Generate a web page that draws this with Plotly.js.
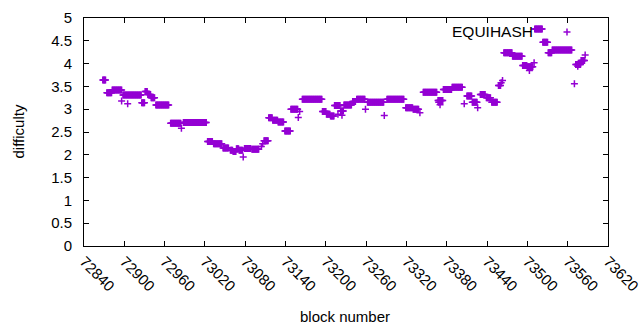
<!DOCTYPE html>
<html>
<head>
<meta charset="utf-8">
<script src="https://cdn.plot.ly/plotly-3.0.1.min.js"></script>
<style>
  html, body { margin: 0; padding: 0; background: #ffffff; }
  #chart { width: 640px; height: 330px; }
</style>
</head>
<body>
<div id="chart"></div>
<script>
// ---- data ----
// runs of consecutive blocks sharing the same difficulty
const runStart = [72868, 72874, 72882, 72898, 72926, 72931, 72935, 72940, 72947, 72969,
                  72988, 73024, 73033, 73047, 73058, 73062, 73067, 73071, 73079, 73090,
                  73108, 73115, 73121, 73129, 73139, 73148, 73165, 73195, 73201, 73207,
                  73213, 73222, 73227, 73240, 73246, 73262, 73291, 73319, 73330, 73345,
                  73367, 73375, 73388, 73410, 73418, 73430, 73439, 73447, 73457, 73465,
                  73478, 73493, 73500, 73511, 73523, 73531, 73537, 73572, 73580];
const runEnd =   [72872, 72881, 72896, 72925, 72930, 72934, 72939, 72945, 72966, 72984,
                  73022, 73031, 73045, 73055, 73061, 73066, 73070, 73076, 73088, 73100,
                  73114, 73120, 73128, 73137, 73147, 73158, 73194, 73200, 73206, 73212,
                  73221, 73226, 73238, 73244, 73258, 73286, 73316, 73329, 73338, 73365,
                  73374, 73387, 73403, 73417, 73425, 73437, 73445, 73455, 73460, 73477,
                  73492, 73499, 73508, 73522, 73530, 73536, 73566, 73579, 73585];
const runDifficulty = [3.64, 3.36, 3.42, 3.31, 3.14, 3.39, 3.32, 3.25, 3.09, 2.69,
                       2.71, 2.29, 2.24, 2.15, 2.10, 2.07, 2.13, 2.10, 2.14, 2.12,
                       2.31, 2.81, 2.76, 2.72, 2.52, 3.00, 3.22, 2.95, 2.89, 2.85,
                       3.08, 2.96, 3.09, 3.17, 3.22, 3.15, 3.22, 3.03, 3.00, 3.37,
                       3.19, 3.43, 3.48, 3.29, 3.15, 3.32, 3.25, 3.15, 3.52, 4.24,
                       4.16, 3.96, 3.93, 4.76, 4.47, 4.24, 4.30, 3.98, 4.07];
// isolated blocks
const singleBlock = [72896, 72905, 72985, 73077, 73104, 73106, 73159, 73161, 73218, 73224,
                     73259, 73287, 73340, 73368, 73370, 73406, 73426, 73461, 73463, 73503,
                     73510, 73570, 73575, 73586];
const singleDifficulty = [3.18, 3.12, 2.58, 1.95, 2.18, 2.24, 2.82, 2.95, 2.89, 2.87,
                          3.00, 2.86, 2.92, 3.15, 3.10, 3.12, 3.03, 3.58, 3.63, 3.85,
                          4.02, 3.56, 3.94, 4.19];

const xTickVals = [72840, 72900, 72960, 73020, 73080, 73140, 73200, 73260, 73320, 73380, 73440, 73500, 73560, 73620];
const xTickText = ['72840', '72900', '72960', '73020', '73080', '73140', '73200', '73260', '73320', '73380', '73440', '73500', '73560', '73620'];
const yTickVals = [0, 0.5, 1, 1.5, 2, 2.5, 3, 3.5, 4, 4.5, 5];
const yTickText = ['0', '0.5', '1', '1.5', '2', '2.5', '3', '3.5', '4', '4.5', '5'];

const seriesName = 'EQUIHASH';
const xTitle = 'block number';
const yTitle = 'difficulty';

// ---- build the point list ----
const xs = [], ys = [];
for (let i = 0; i < runStart.length; i++) {
  for (let b = runStart[i]; b <= runEnd[i]; b++) { xs.push(b); ys.push(runDifficulty[i]); }
}
for (let i = 0; i < singleBlock.length; i++) { xs.push(singleBlock[i]); ys.push(singleDifficulty[i]); }

const purple = '#9400d3';
const font = 'Liberation Sans, Arial, sans-serif';

const trace = {
  type: 'scatter',
  mode: 'markers',
  name: seriesName,
  x: xs,
  y: ys,
  marker: { symbol: 'cross-thin-open', size: 5, color: purple, line: { color: purple, width: 1.5 } },
  showlegend: false,
  hoverinfo: 'skip',
  cliponaxis: false
};

const L = 84, R = 608, T = 18, B = 246;
function px(xp) { return (xp - L) / (R - L); }
function py(yp) { return (B - yp) / (B - T); }

const layout = {
  width: 640, height: 330,
  margin: { l: L, r: 640 - R, t: T, b: 330 - B, pad: 0 },
  paper_bgcolor: '#ffffff', plot_bgcolor: '#ffffff',
  font: { family: font, size: 15, color: '#000000' },
  showlegend: false,
  xaxis: {
    range: [72840, 73620.001], tickvals: xTickVals, ticktext: xTickText, tickangle: 45,
    ticks: 'inside', ticklen: 5, tickcolor: '#000', tickwidth: 1,
    showline: true, linecolor: '#000', linewidth: 1, mirror: 'ticks',
    showgrid: false, zeroline: false, automargin: false,
    ticklabeloverflow: 'allow',
    tickfont: { family: font, size: 15, color: '#000' }
  },
  yaxis: {
    range: [0, 5], tickvals: yTickVals, ticktext: yTickText,
    ticks: 'inside', ticklen: 5, tickcolor: '#000', tickwidth: 1,
    showline: true, linecolor: '#000', linewidth: 1, mirror: 'ticks',
    showgrid: false, zeroline: false, automargin: false,
    ticklabelstandoff: 8,
    tickfont: { family: font, size: 15, color: '#000' }
  },
  annotations: [
    { text: xTitle, xref: 'paper', yref: 'paper', x: px(345), y: py(316), xanchor: 'center', yanchor: 'middle', showarrow: false, font: { family: font, size: 15, color: '#000' } },
    { text: yTitle, xref: 'paper', yref: 'paper', x: px(17.5), y: py(132), xanchor: 'center', yanchor: 'middle', textangle: -90, showarrow: false, font: { family: font, size: 15, color: '#000' } },
    { text: seriesName, xref: 'paper', yref: 'paper', x: px(535), y: py(32), xanchor: 'right', yanchor: 'middle', showarrow: false, font: { family: font, size: 15.5, color: '#000' } }
  ],
  shapes: [
    { type: 'line', xref: 'paper', yref: 'paper', x0: px(563.5), x1: px(570.5), y0: py(32), y1: py(32), line: { color: purple, width: 1.5 } },
    { type: 'line', xref: 'paper', yref: 'paper', x0: px(567), x1: px(567), y0: py(28.5), y1: py(35.5), line: { color: purple, width: 1.5 } }
  ]
};

Plotly.newPlot('chart', [trace], layout, { staticPlot: true, displayModeBar: false });
</script>
</body>
</html>
